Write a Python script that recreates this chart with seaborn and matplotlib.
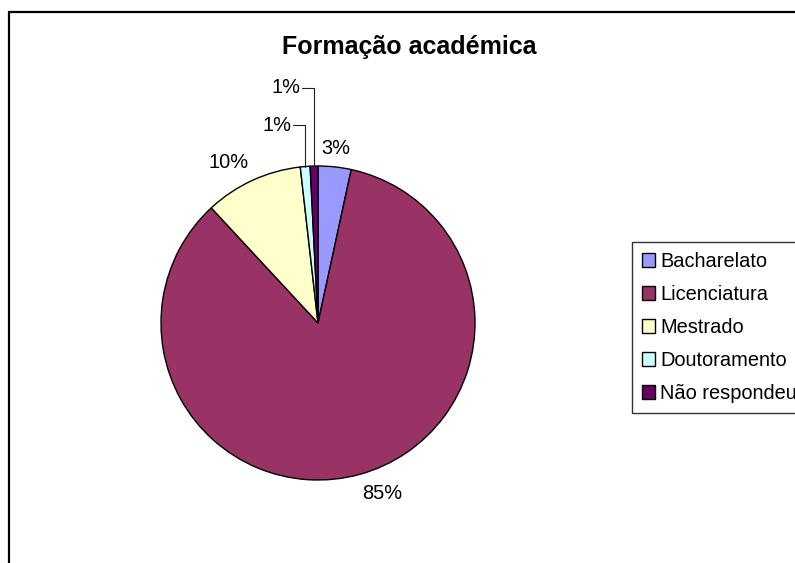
import matplotlib
matplotlib.use('Agg')
import matplotlib.pyplot as plt
import seaborn as sns
import numpy as np
from matplotlib.patches import Patch, Rectangle

# Data
categories = ['Bacharelato', 'Licenciatura', 'Mestrado', 'Doutoramento', 'Não respondeu']
percentages = [3.4, 84.7, 10.1, 1.0, 0.8]
colors = ['#9999FF', '#993366', '#FFFFCC', '#CCFFFF', '#660066']
title = 'Formação académica'

# Small slices get their label lifted above the pie with a leader line
leader_heights = [None, None, None, 1.26, 1.50]

sns.set_style('white')
plt.rcParams['font.family'] = ['Liberation Sans', 'DejaVu Sans']
plt.rcParams['text.color'] = 'black'

W, H = 795, 563
fig = plt.figure(figsize=(W / 100, H / 100), dpi=100)
ax = fig.add_axes([0, 0, 1, 1])

# pie centre and radius in pixels
cx, cy, R = 318, 323, 157

wedges, _ = ax.pie(percentages, colors=colors, startangle=90, counterclock=False,
                   wedgeprops=dict(edgecolor='black', linewidth=1.0))
ax.set_xlim(-cx / R, (W - cx) / R)
ax.set_ylim(-(H - cy) / R, cy / R)
ax.set_aspect('auto')
ax.axis('off')

fs = 14.4
for w, pct, lh in zip(wedges, percentages, leader_heights):
    mid = np.deg2rad((w.theta1 + w.theta2) / 2)
    x, y = np.cos(mid), np.sin(mid)
    label = f'{pct:.0f}%'
    if lh is None:
        d = 1.06
        ha = 'left' if x > 0.15 else ('right' if x < -0.15 else 'center')
        va = 'bottom' if y > 0 else 'top'
        ax.text(x * d, y * d, label, ha=ha, va=va, fontsize=fs, color='black')
    else:
        ax.plot([x - 0.075, x, x], [lh, lh, y], color='#222222', lw=0.8, clip_on=False)
        ax.text(x - 0.085, lh, label, ha='right', va='center', fontsize=fs, color='black')

fig.text(409.5 / W, 1 - 47 / H, title, ha='center', va='center',
         fontsize=18, fontweight='bold', color='black')

handles = [Patch(facecolor=c, edgecolor='black', linewidth=1.0) for c in colors]
leg = fig.legend(handles, categories, loc='upper left',
                 bbox_to_anchor=(632 / W, 1 - 242 / H), frameon=True, fancybox=False,
                 edgecolor='black', fontsize=fs, handlelength=0.65, handleheight=0.65,
                 handletextpad=0.25, labelspacing=0.7, borderpad=0.5, borderaxespad=0)
leg.get_frame().set_linewidth(1.0)
for t in leg.get_texts():
    t.set_color('black')

# outer chart border (right and bottom edges fall outside the picture)
fig.patches.append(Rectangle((9 / W, -0.05), 1.1, 1 - 12 / H + 0.05, transform=fig.transFigure,
                             fill=False, edgecolor='black', linewidth=1.6))

fig.savefig('out.png', dpi=100)
